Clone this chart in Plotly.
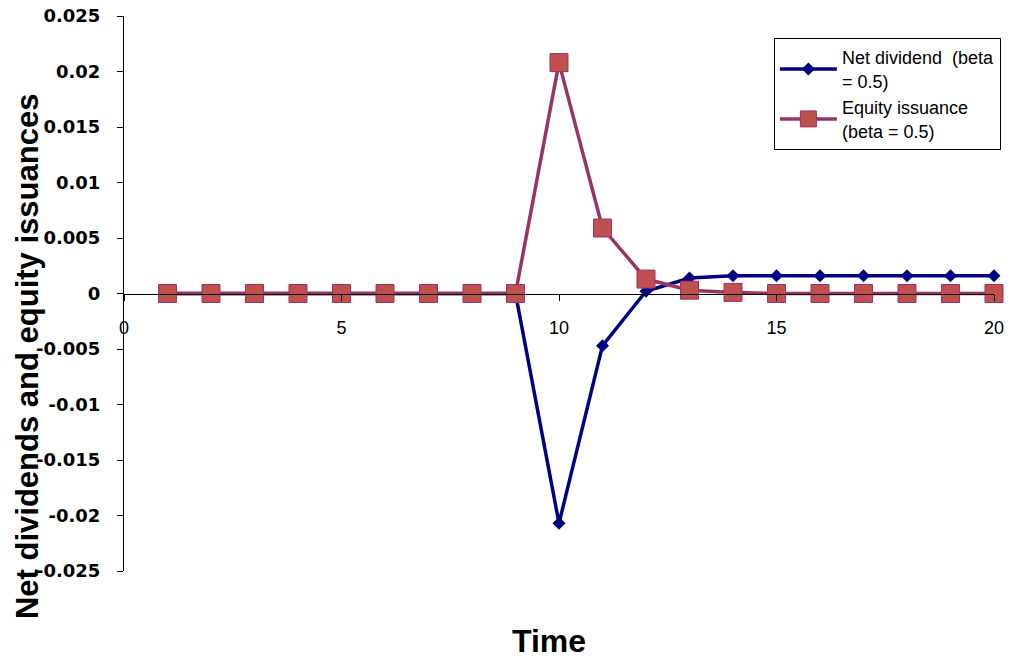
import plotly.graph_objects as go

time = list(range(1, 21))
net_dividend = [0, 0, 0, 0, 0, 0, 0, 0, 0, -0.0207, -0.0047, 0.0002, 0.0014, 0.0016,
                0.0016, 0.0016, 0.0016, 0.0016, 0.0016, 0.0016]
equity_issuance = [0, 0, 0, 0, 0, 0, 0, 0, 0, 0.0208, 0.0059, 0.0013, 0.0003, 0.0001,
                   0, 0, 0, 0, 0, 0]
x_ticks = [0, 5, 10, 15, 20]
y_ticks = [0.025, 0.02, 0.015, 0.01, 0.005, 0, -0.005, -0.01, -0.015, -0.02, -0.025]
y_tick_text = ["0.025", "0.02", "0.015", "0.01", "0.005", "0", "-0.005", "-0.01",
               "-0.015", "-0.02", "-0.025"]

FONT = "Liberation Sans, Arial, sans-serif"
TICKFONT = "DejaVu Sans, sans-serif"

fig = go.Figure()
fig.add_trace(go.Scatter(
    x=time, y=net_dividend, mode="lines+markers",
    name="Net dividend  (beta<br>= 0.5)",
    line=dict(color="#000080", width=3.5),
    marker=dict(symbol="diamond", size=10, color="#000080"),
    cliponaxis=False,
))
fig.add_trace(go.Scatter(
    x=time, y=equity_issuance, mode="lines+markers",
    name="Equity issuance<br>(beta = 0.5)",
    line=dict(color="#993366", width=3.5),
    marker=dict(symbol="square", size=18, color="#C0504D",
                line=dict(color="#993366", width=1)),
    cliponaxis=False,
))

# page body has an 8px margin; figure is sized/offset to compensate
fig.update_layout(
    width=1012, height=650,
    margin=dict(l=116, r=26, t=8, b=87, autoexpand=False),
    paper_bgcolor="white", plot_bgcolor="white",
    font=dict(family=FONT, color="black"),
    showlegend=True,
    legend=dict(
        x=0.747, y=0.960, xanchor="left", yanchor="top",
        bordercolor="black", borderwidth=1, bgcolor="white",
        font=dict(size=18, family=FONT, color="black"),
        itemwidth=57, tracegroupgap=0,
    ),
    xaxis=dict(
        range=[0, 20], tickvals=x_ticks, ticktext=[str(v) for v in x_ticks],
        showgrid=False, zeroline=False, showline=True, linecolor="black", linewidth=1,
        ticks="outside", ticklen=6, tickcolor="black",
        anchor="free", position=0.5,
        tickfont=dict(size=18, family=FONT), ticklabelstandoff=12,
        ticklabeloverflow="allow",
    ),
    yaxis=dict(
        range=[-0.025, 0.025], tickvals=y_ticks, ticktext=y_tick_text,
        showgrid=False, zeroline=False, showline=True, linecolor="black", linewidth=1,
        ticks="outside", ticklen=6, tickcolor="black",
        tickfont=dict(size=18, family=TICKFONT, weight="bold"),
        ticklabelstandoff=13, automargin=False, ticklabeloverflow="allow",
    ),
)

fig.add_annotation(
    text="<b>Net dividends and equity issuances</b>", textangle=-90,
    xref="paper", yref="paper", x=-0.1103, y=0.3856, xanchor="center", yanchor="middle",
    showarrow=False, font=dict(size=31, family=FONT, color="black"),
)
fig.add_annotation(
    text="<b>Time</b>",
    xref="paper", yref="paper", x=0.4885, y=-0.126, xanchor="center", yanchor="middle",
    showarrow=False, font=dict(size=32, family=FONT, color="black"),
)

fig.write_html("out.html")
